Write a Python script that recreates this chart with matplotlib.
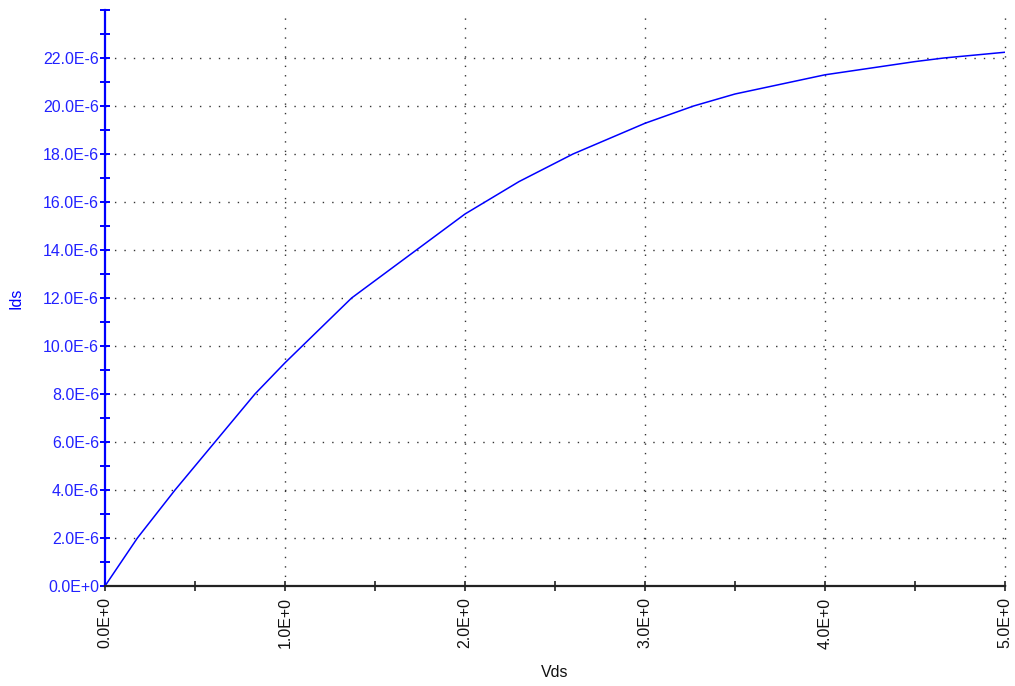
import matplotlib
matplotlib.use("Agg")
import matplotlib.pyplot as plt
from matplotlib.ticker import MultipleLocator, FuncFormatter, FixedLocator

# Vds (V) and Ids (A)
vds = [0.0, 0.18, 0.389, 0.611, 0.833, 1.0, 1.37, 1.73, 2.0, 2.3, 2.6, 3.0,
       3.27, 3.5, 4.0, 4.5, 4.66, 5.0]
ids = [0.0, 2.0e-6, 4.0e-6, 6.0e-6, 8.0e-6, 9.3e-6, 12.0e-6, 14.0e-6, 15.5e-6,
       16.85e-6, 18.0e-6, 19.28e-6, 20.0e-6, 20.5e-6, 21.3e-6, 21.85e-6,
       22.0e-6, 22.24e-6]

x_major = [0, 1, 2, 3, 4, 5]
y_major = [i * 2e-6 for i in range(12)]

plt.rcParams['font.family'] = ['Liberation Sans', 'DejaVu Sans']

fig = plt.figure(figsize=(10.15, 6.86), dpi=100)
ax = fig.add_axes([105 / 1015, 100 / 686, 900 / 1015, 576 / 686])

ax.plot(vds, ids, color='#0000ff', linewidth=1.1)

ax.set_xlim(0, 5)
ax.set_ylim(0, 24e-6)

ax.spines['top'].set_visible(False)
ax.spines['right'].set_visible(False)
ax.spines['left'].set_color('#0000ff')
ax.spines['left'].set_linewidth(1.6)
ax.spines['bottom'].set_color('#222222')
ax.spines['bottom'].set_linewidth(1.6)

ax.xaxis.set_major_locator(FixedLocator(x_major))
ax.xaxis.set_minor_locator(MultipleLocator(0.5))
ax.yaxis.set_major_locator(FixedLocator(y_major + [24e-6]))
ax.yaxis.set_minor_locator(MultipleLocator(1e-6))


def fmt_y(v, pos):
    if v > 23e-6:
        return ''
    if abs(v) < 1e-12:
        return '0.0E+0'
    return f"{v * 1e6:.1f}E-6"


def fmt_x(v, pos):
    return f"{v:.1f}E+0"


ax.yaxis.set_major_formatter(FuncFormatter(fmt_y))
ax.xaxis.set_major_formatter(FuncFormatter(fmt_x))

ax.tick_params(axis='y', which='both', direction='inout', length=6.5, width=1.4,
               color='#0000ff', labelcolor='#2222ff', labelsize=11.5, pad=1)
ax.tick_params(axis='x', which='both', direction='inout', length=6.5, width=1.2,
               color='#222222', labelcolor='#111111', labelsize=11.5, pad=5,
               labelrotation=90)

# dotted grid at major positions
for xv in x_major[1:]:
    ax.axvline(xv, color='#333333', linestyle=(0, (1, 5.8)), linewidth=1.0,
               zorder=0, clip_on=False)
for yv in y_major[1:]:
    ax.axhline(yv, color='#333333', linestyle=(0, (1, 5.8)), linewidth=1.0,
               zorder=0)

ax.set_xlabel('Vds', fontsize=11.5, color='#111111', labelpad=12)
ax.set_ylabel('Ids', fontsize=11.5, color='#0000ff', labelpad=14)

fig.savefig('out.png', dpi=100)
